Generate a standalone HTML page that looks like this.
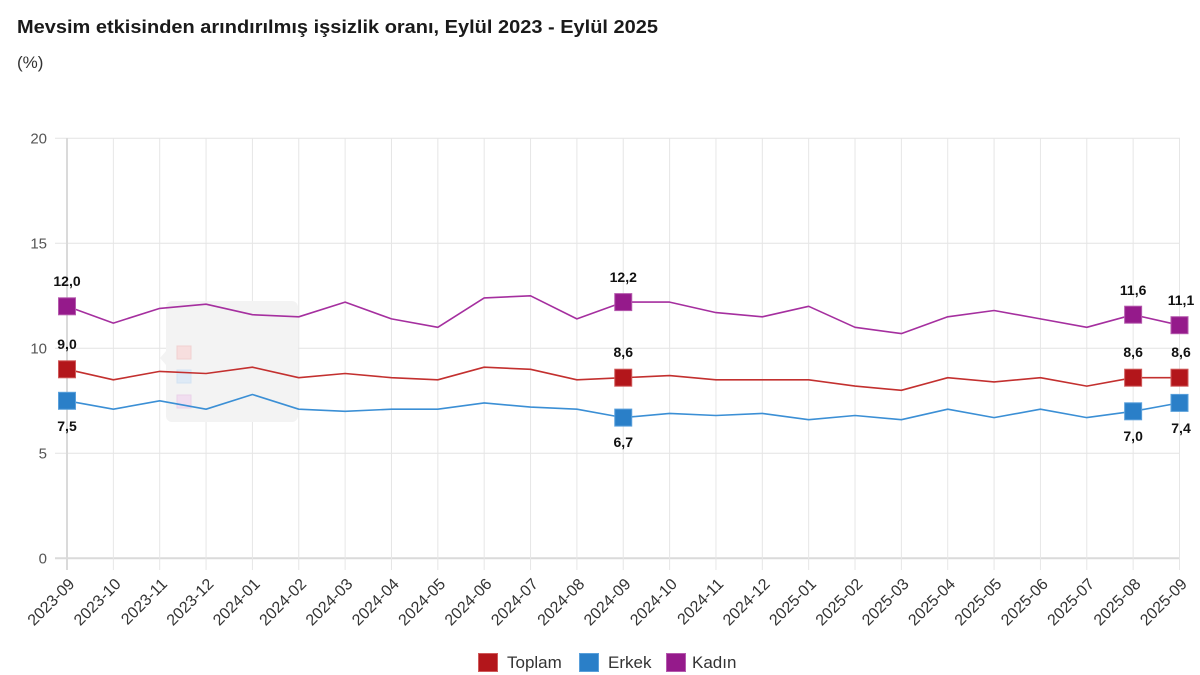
<!DOCTYPE html>
<html><head><meta charset="utf-8"><style>
html,body{margin:0;padding:0;background:#fff;}
svg{display:block;}
text{font-family:"Liberation Sans",Arial,sans-serif;}
</style></head><body>
<svg width="1200" height="675" viewBox="0 0 1200 675" xmlns="http://www.w3.org/2000/svg">
<rect width="1200" height="675" fill="#fff"/>
<text x="17" y="33" font-size="18.5" font-weight="bold" fill="#1a1a1a" textLength="641" lengthAdjust="spacingAndGlyphs">Mevsim etkisinden arındırılmış işsizlik oranı, Eylül 2023 - Eylül 2025</text>
<text x="17" y="68" font-size="17" fill="#333">(%)</text>

<!-- horizontal grid -->
<g stroke="#e3e3e3" stroke-width="1">
<line x1="55" y1="138.3" x2="1180" y2="138.3"/>
<line x1="55" y1="243.3" x2="1180" y2="243.3"/>
<line x1="55" y1="348.3" x2="1180" y2="348.3"/>
<line x1="55" y1="453.3" x2="1180" y2="453.3"/>
</g>
<line x1="55" y1="558.3" x2="1180" y2="558.3" stroke="#dadada" stroke-width="2"/>
<!-- vertical grid -->
<g stroke="#e6e6e6" stroke-width="1">
<line x1="113.35" y1="138" x2="113.35" y2="570"/>
<line x1="159.71" y1="138" x2="159.71" y2="570"/>
<line x1="206.06" y1="138" x2="206.06" y2="570"/>
<line x1="252.42" y1="138" x2="252.42" y2="570"/>
<line x1="298.77" y1="138" x2="298.77" y2="570"/>
<line x1="345.12" y1="138" x2="345.12" y2="570"/>
<line x1="391.48" y1="138" x2="391.48" y2="570"/>
<line x1="437.83" y1="138" x2="437.83" y2="570"/>
<line x1="484.19" y1="138" x2="484.19" y2="570"/>
<line x1="530.54" y1="138" x2="530.54" y2="570"/>
<line x1="576.89" y1="138" x2="576.89" y2="570"/>
<line x1="623.25" y1="138" x2="623.25" y2="570"/>
<line x1="669.6" y1="138" x2="669.6" y2="570"/>
<line x1="715.96" y1="138" x2="715.96" y2="570"/>
<line x1="762.31" y1="138" x2="762.31" y2="570"/>
<line x1="808.66" y1="138" x2="808.66" y2="570"/>
<line x1="855.02" y1="138" x2="855.02" y2="570"/>
<line x1="901.37" y1="138" x2="901.37" y2="570"/>
<line x1="947.73" y1="138" x2="947.73" y2="570"/>
<line x1="994.08" y1="138" x2="994.08" y2="570"/>
<line x1="1040.43" y1="138" x2="1040.43" y2="570"/>
<line x1="1086.79" y1="138" x2="1086.79" y2="570"/>
<line x1="1133.14" y1="138" x2="1133.14" y2="570"/>
<line x1="1179.5" y1="138" x2="1179.5" y2="570"/>
</g>
<line x1="67" y1="138" x2="67" y2="570" stroke="#dadada" stroke-width="2"/>

<!-- y tick labels -->
<g font-size="15" fill="#555" text-anchor="end">
<text x="47" y="143.5">20</text>
<text x="47" y="248.5">15</text>
<text x="47" y="353.5">10</text>
<text x="47" y="458.5">5</text>
<text x="47" y="563.5">0</text>
</g>

<!-- ghost tooltip -->
<rect x="166" y="301" width="132" height="121" rx="6" fill="#f3f3f3"/>
<polygon points="166,351 160,358 166,365" fill="#f3f3f3"/>
<rect x="177" y="346" width="14" height="13" fill="#f7dede" stroke="#f0d0d0"/>
<rect x="177" y="370" width="14" height="13" fill="#deeaf6" stroke="#d3e3f3"/>
<rect x="177" y="395" width="14" height="13" fill="#f1def0" stroke="#ead3e8"/>

<!-- series lines -->
<polyline fill="none" stroke="#a52f9f" stroke-width="1.6" stroke-linejoin="round" points="67,306.3 113.35,323.1 159.71,308.4 206.06,304.2 252.42,314.7 298.77,316.8 345.12,302.1 391.48,318.9 437.83,327.3 484.19,297.9 530.54,295.8 576.89,318.9 623.25,302.1 669.6,302.1 715.96,312.6 762.31,316.8 808.66,306.3 855.02,327.3 901.37,333.6 947.73,316.8 994.08,310.5 1040.43,318.9 1086.79,327.3 1133.14,314.7 1179.5,325.2"/>
<polyline fill="none" stroke="#c3302f" stroke-width="1.6" stroke-linejoin="round" points="67,369.3 113.35,379.8 159.71,371.4 206.06,373.5 252.42,367.2 298.77,377.7 345.12,373.5 391.48,377.7 437.83,379.8 484.19,367.2 530.54,369.3 576.89,379.8 623.25,377.7 669.6,375.6 715.96,379.8 762.31,379.8 808.66,379.8 855.02,386.1 901.37,390.3 947.73,377.7 994.08,381.9 1040.43,377.7 1086.79,386.1 1133.14,377.7 1179.5,377.7"/>
<polyline fill="none" stroke="#3b8fd5" stroke-width="1.6" stroke-linejoin="round" points="67,400.8 113.35,409.2 159.71,400.8 206.06,409.2 252.42,394.5 298.77,409.2 345.12,411.3 391.48,409.2 437.83,409.2 484.19,402.9 530.54,407.1 576.89,409.2 623.25,417.6 669.6,413.4 715.96,415.5 762.31,413.4 808.66,419.7 855.02,415.5 901.37,419.7 947.73,409.2 994.08,417.6 1040.43,409.2 1086.79,417.6 1133.14,411.3 1179.5,402.9"/>

<!-- markers -->
<g stroke-width="1">
<g fill="#951a8b" stroke="#b55aad">
<rect x="58.5" y="297.8" width="17" height="17"/>
<rect x="614.75" y="293.6" width="17" height="17"/>
<rect x="1124.64" y="306.2" width="17" height="17"/>
<rect x="1171" y="316.7" width="17" height="17"/>
</g>
<g fill="#b3161b" stroke="#cf5a5a">
<rect x="58.5" y="360.8" width="17" height="17"/>
<rect x="614.75" y="369.2" width="17" height="17"/>
<rect x="1124.64" y="369.2" width="17" height="17"/>
<rect x="1171" y="369.2" width="17" height="17"/>
</g>
<g fill="#2a7fc8" stroke="#5aa0db">
<rect x="58.5" y="392.3" width="17" height="17"/>
<rect x="614.75" y="409.1" width="17" height="17"/>
<rect x="1124.64" y="402.8" width="17" height="17"/>
<rect x="1171" y="394.4" width="17" height="17"/>
</g>
</g>

<!-- data labels -->
<g font-size="14" font-weight="bold" fill="#111" text-anchor="middle">
<text x="67" y="286">12,0</text>
<text x="67" y="349">9,0</text>
<text x="67" y="431">7,5</text>
<text x="623.25" y="282">12,2</text>
<text x="623.25" y="357">8,6</text>
<text x="623.25" y="447">6,7</text>
<text x="1133.14" y="295">11,6</text>
<text x="1133.14" y="357">8,6</text>
<text x="1133.14" y="441">7,0</text>
<text x="1181" y="305">11,1</text>
<text x="1181" y="357">8,6</text>
<text x="1181" y="433">7,4</text>
</g>

<!-- x tick labels -->
<g font-size="16" fill="#333" text-anchor="end">
<text transform="translate(71.5,581) rotate(-45)" dy="0.35em">2023-09</text>
<text transform="translate(117.85,581) rotate(-45)" dy="0.35em">2023-10</text>
<text transform="translate(164.21,581) rotate(-45)" dy="0.35em">2023-11</text>
<text transform="translate(210.56,581) rotate(-45)" dy="0.35em">2023-12</text>
<text transform="translate(256.92,581) rotate(-45)" dy="0.35em">2024-01</text>
<text transform="translate(303.27,581) rotate(-45)" dy="0.35em">2024-02</text>
<text transform="translate(349.62,581) rotate(-45)" dy="0.35em">2024-03</text>
<text transform="translate(395.98,581) rotate(-45)" dy="0.35em">2024-04</text>
<text transform="translate(442.33,581) rotate(-45)" dy="0.35em">2024-05</text>
<text transform="translate(488.69,581) rotate(-45)" dy="0.35em">2024-06</text>
<text transform="translate(535.04,581) rotate(-45)" dy="0.35em">2024-07</text>
<text transform="translate(581.39,581) rotate(-45)" dy="0.35em">2024-08</text>
<text transform="translate(627.75,581) rotate(-45)" dy="0.35em">2024-09</text>
<text transform="translate(674.1,581) rotate(-45)" dy="0.35em">2024-10</text>
<text transform="translate(720.46,581) rotate(-45)" dy="0.35em">2024-11</text>
<text transform="translate(766.81,581) rotate(-45)" dy="0.35em">2024-12</text>
<text transform="translate(813.16,581) rotate(-45)" dy="0.35em">2025-01</text>
<text transform="translate(859.52,581) rotate(-45)" dy="0.35em">2025-02</text>
<text transform="translate(905.87,581) rotate(-45)" dy="0.35em">2025-03</text>
<text transform="translate(952.23,581) rotate(-45)" dy="0.35em">2025-04</text>
<text transform="translate(998.58,581) rotate(-45)" dy="0.35em">2025-05</text>
<text transform="translate(1044.93,581) rotate(-45)" dy="0.35em">2025-06</text>
<text transform="translate(1091.29,581) rotate(-45)" dy="0.35em">2025-07</text>
<text transform="translate(1137.64,581) rotate(-45)" dy="0.35em">2025-08</text>
<text transform="translate(1184,581) rotate(-45)" dy="0.35em">2025-09</text>
</g>

<!-- legend -->
<rect x="478.5" y="653.5" width="19" height="18" fill="#b3161b" stroke="#cf5a5a"/>
<text x="507" y="668" font-size="17" fill="#333">Toplam</text>
<rect x="579.5" y="653.5" width="19" height="18" fill="#2a7fc8" stroke="#5aa0db"/>
<text x="608" y="668" font-size="17" fill="#333">Erkek</text>
<rect x="666.5" y="653.5" width="19" height="18" fill="#951a8b" stroke="#b55aad"/>
<text x="692" y="668" font-size="17" fill="#333">Kadın</text>
</svg>
</body></html>
